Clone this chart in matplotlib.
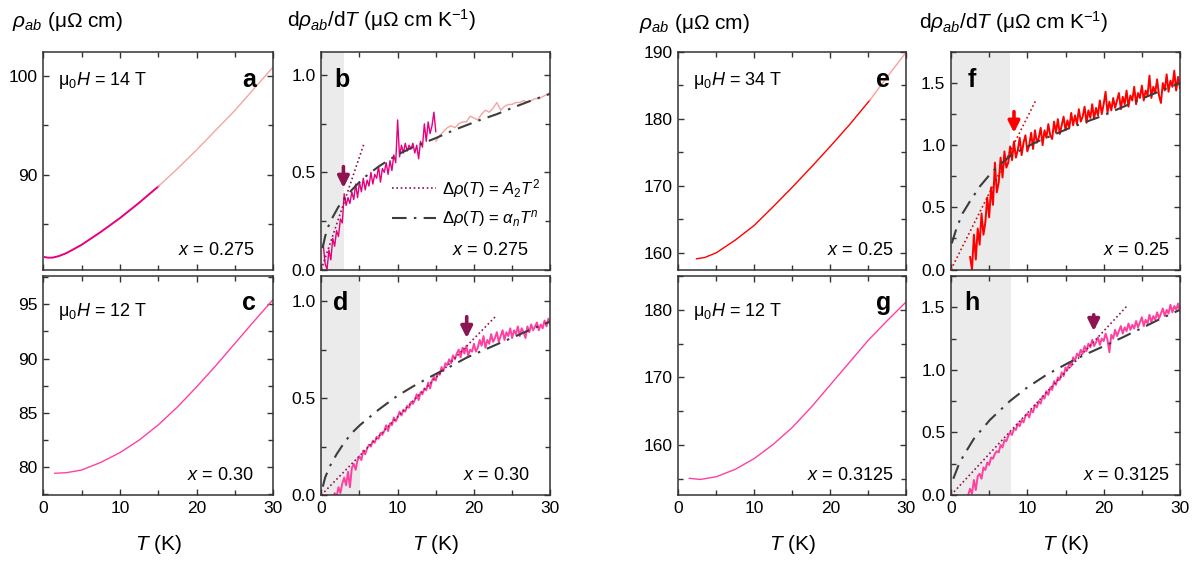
import matplotlib
matplotlib.use('Agg')
import matplotlib.pyplot as plt
import numpy as np
from matplotlib.ticker import MultipleLocator

plt.rcParams['font.family'] = ['Liberation Sans', 'DejaVu Sans']
plt.rcParams['mathtext.fontset'] = 'custom'
plt.rcParams['mathtext.rm'] = 'Liberation Sans'
plt.rcParams['mathtext.it'] = 'Liberation Sans:italic'
plt.rcParams['mathtext.bf'] = 'Liberation Sans:bold'

# ---------------- data ----------------
# a : x = 0.275, 14 T  (resistivity)
t_a = [0.2, 0.6, 1.2, 2, 3, 5, 7.5, 10, 12.5, 15]
rho_a = [81.65, 81.6, 81.6, 81.75, 82.05, 82.9, 84.2, 85.6, 87.15, 88.8]
t_a_hi = [15, 17.5, 20, 22.5, 25, 27.5, 30]
rho_a_hi = [88.8, 90.6, 92.5, 94.5, 96.5, 98.7, 100.9]

# b : derivative, x = 0.275 (measured every 0.25 K)
b_t_range = (0.25, 15.0)
drho_b = [0.13, 0.03, 0.00, 0.10, 0.05, 0.16, 0.12, 0.20, 0.17, 0.26, 0.24, 0.39,
          0.33, 0.37, 0.34, 0.40, 0.36, 0.44, 0.37, 0.45, 0.40, 0.47, 0.41, 0.46,
          0.43, 0.50, 0.44, 0.49, 0.47, 0.53, 0.45, 0.52, 0.50, 0.55, 0.49, 0.56,
          0.51, 0.59, 0.55, 0.77, 0.58, 0.64, 0.60, 0.65, 0.61, 0.64, 0.62, 0.65,
          0.60, 0.64, 0.57, 0.66, 0.63, 0.75, 0.66, 0.76, 0.70, 0.74, 0.81, 0.71]
b_hi_t_range = (15.0, 30.0)
drho_b_hi = [0.66, 0.69, 0.71, 0.73, 0.74, 0.73, 0.75, 0.76, 0.76, 0.79, 0.78,
             0.77, 0.80, 0.82, 0.81, 0.83, 0.86, 0.82, 0.84, 0.85, 0.85, 0.86,
             0.86, 0.87, 0.86, 0.87, 0.88, 0.88, 0.89, 0.90, 0.91]
fit_t_b = [0.17, 0.5, 0.9, 1.5, 2.2, 2.9, 4, 5.5, 7.5, 9.9, 12, 14.9, 17.5, 20.8, 23, 25.2, 27.5, 30]
fit_b = [0.11, 0.17, 0.22, 0.27, 0.32, 0.36, 0.41, 0.47, 0.53, 0.59, 0.63, 0.675,
         0.72, 0.77, 0.80, 0.835, 0.87, 0.905]
quad_t_b = [0, 5.64]
quad_b = [0, 0.654]

# c : x = 0.30, 12 T
t_c = [1.5, 3, 5, 7.5, 10, 12.5, 15, 17.5, 20, 22.5, 25, 27.5, 30]
rho_c = [79.45, 79.5, 79.75, 80.45, 81.35, 82.5, 83.9, 85.55, 87.4, 89.35, 91.4, 93.45, 95.45]

# d : derivative, x = 0.30
d_t_range = (1.5, 30.0)
drho_d = [-0.02, 0.01, -0.01, 0.04, 0.01, 0.06, 0.09, 0.05, 0.12, 0.04, 0.14, 0.16,
          0.13, 0.18, 0.20, 0.18, 0.23, 0.21, 0.24, 0.26, 0.25, 0.28, 0.27, 0.30,
          0.29, 0.32, 0.31, 0.33, 0.36, 0.33, 0.37, 0.36, 0.40, 0.38, 0.40, 0.43,
          0.41, 0.44, 0.43, 0.46, 0.45, 0.48, 0.47, 0.49, 0.52, 0.49, 0.53, 0.52,
          0.55, 0.54, 0.58, 0.55, 0.59, 0.61, 0.59, 0.63, 0.62, 0.66, 0.64, 0.68,
          0.67, 0.70, 0.68, 0.72, 0.70, 0.73, 0.75, 0.71, 0.76, 0.73, 0.77, 0.72,
          0.75, 0.74, 0.78, 0.74, 0.76, 0.80, 0.77, 0.82, 0.76, 0.80, 0.78, 0.83,
          0.79, 0.81, 0.84, 0.79, 0.82, 0.85, 0.80, 0.84, 0.82, 0.86, 0.81, 0.85,
          0.83, 0.87, 0.82, 0.86, 0.84, 0.81, 0.87, 0.84, 0.88, 0.85, 0.87, 0.89,
          0.85, 0.88, 0.86, 0.90, 0.87, 0.91, 0.88]
fit_t_d = [0.2, 0.5, 1.1, 2, 3, 4, 5.1, 7.5, 9.9, 12, 14.3, 17, 19.1, 22, 25.2, 27.5, 30]
fit_d = [0.043, 0.09, 0.147, 0.21, 0.27, 0.32, 0.362, 0.44, 0.51, 0.56, 0.61, 0.665,
         0.71, 0.76, 0.815, 0.855, 0.895]
quad_t_d = [0, 23.0]
quad_d = [0, 0.928]

# e : x = 0.25, 34 T
t_e = [2.4, 3.5, 5, 7.5, 10, 12.5, 15, 17.5, 20, 22.5, 25.2]
rho_e = [159.1, 159.3, 160.0, 161.9, 164.1, 166.9, 169.8, 172.8, 175.9, 179.1, 182.8]
t_e_hi = [25.2, 27.5, 30]
rho_e_hi = [182.8, 186.3, 190.0]

# f : derivative, x = 0.25
f_t_range = (2.5, 30.0)
drho_f = [0.10, 0.00, 0.28, 0.08, 0.33, 0.20, 0.45, 0.28, 0.38, 0.58, 0.42, 0.66,
          0.52, 0.86, 0.62, 0.70, 0.90, 0.74, 0.95, 0.82, 0.86, 0.99, 0.88, 1.03,
          0.90, 0.96, 1.06, 0.92, 1.02, 1.08, 0.95, 1.00, 1.10, 0.97, 1.12, 1.02,
          1.06, 1.14, 1.00, 1.12, 1.06, 1.17, 1.08, 1.05, 1.19, 1.10, 1.21, 1.09,
          1.16, 1.23, 1.12, 1.20, 1.14, 1.26, 1.16, 1.24, 1.17, 1.29, 1.19, 1.23,
          1.31, 1.18, 1.28, 1.22, 1.33, 1.21, 1.30, 1.24, 1.36, 1.25, 1.33, 1.43,
          1.26, 1.35, 1.28, 1.38, 1.30, 1.36, 1.42, 1.29, 1.39, 1.33, 1.44, 1.31,
          1.40, 1.36, 1.47, 1.33, 1.42, 1.38, 1.48, 1.36, 1.44, 1.40, 1.56, 1.38,
          1.47, 1.42, 1.53, 1.40, 1.34, 1.50, 1.44, 1.57, 1.43, 1.52, 1.47, 1.60,
          1.44, 1.55, 1.46]
fit_t_f = [0.1, 0.74, 1.5, 2.5, 3.8, 5.1, 6.4, 7.7, 9.5, 11.7, 13.5, 15.2, 18, 20, 22.6, 26, 30]
fit_f = [0.21, 0.335, 0.45, 0.55, 0.67, 0.765, 0.845, 0.91, 0.975, 1.04, 1.085, 1.13,
         1.195, 1.24, 1.31, 1.40, 1.50]
quad_t_f = [0, 11.1]
quad_f = [0, 1.36]

# g : x = 0.3125, 12 T
t_g = [1.45, 2.9, 5, 7.5, 10, 12.5, 15, 17.5, 20, 22.5, 25, 27.5, 30]
rho_g = [155.07, 154.9, 155.3, 156.4, 158.0, 160.1, 162.6, 165.6, 168.9, 172.2, 175.5, 178.4, 181.2]

# h : derivative, x = 0.3125
h_t_range = (2.25, 30.0)
drho_h = [0.00, 0.05, 0.01, 0.12, 0.04, 0.15, 0.17, 0.13, 0.22, 0.20, 0.26, 0.24,
          0.30, 0.29, 0.33, 0.35, 0.34, 0.40, 0.38, 0.44, 0.43, 0.47, 0.50, 0.48,
          0.53, 0.52, 0.57, 0.55, 0.60, 0.58, 0.63, 0.65, 0.62, 0.68, 0.66, 0.72,
          0.70, 0.75, 0.73, 0.79, 0.77, 0.83, 0.80, 0.86, 0.84, 0.91, 0.88, 0.94,
          0.92, 0.98, 0.95, 1.02, 1.00, 1.06, 1.03, 1.10, 1.07, 1.13, 1.11, 1.16,
          1.13, 1.19, 1.15, 1.21, 1.18, 1.24, 1.19, 1.22, 1.26, 1.20, 1.25, 1.23,
          1.29, 1.24, 1.14, 1.28, 1.25, 1.32, 1.27, 1.31, 1.35, 1.29, 1.34, 1.31,
          1.37, 1.32, 1.36, 1.33, 1.39, 1.34, 1.38, 1.42, 1.35, 1.40, 1.37, 1.44,
          1.38, 1.43, 1.40, 1.46, 1.41, 1.45, 1.49, 1.43, 1.48, 1.45, 1.52, 1.46,
          1.51, 1.48, 1.53, 1.47]
fit_t_h = [0.3, 1.0, 1.6, 3, 5.1, 7.7, 10, 12.5, 15.2, 17.5, 20.4, 22.5, 25.2, 27.5, 30]
fit_h = [0.13, 0.24, 0.31, 0.45, 0.60, 0.75, 0.86, 0.96, 1.05, 1.12, 1.20, 1.26,
         1.34, 1.41, 1.48]
quad_t_h = [0, 23.1]
quad_h = [0, 1.513]

# arrows (T, tail, tip) and shaded low-T windows
arrow_b = (2.9, 0.53, 0.42)
arrow_d = (19.05, 0.92, 0.81)
arrow_f = (8.25, 1.27, 1.10)
arrow_h = (18.7, 1.44, 1.31)
shade_b, shade_d, shade_f, shade_h = 3.0, 5.1, 7.7, 7.8

# ---------------- style ----------------
MAGENTA = '#E5007E'
LIGHT_PINK = '#F6A3A3'
HOT_PINK = '#FF40A0'
RED = '#FF0000'
LIGHT_RED = '#FF9C9C'
MAROON = '#8C1450'
FIT_GRAY = '#3C3C3C'
SHADE = '#EBEBEB'
SPINE = '#333333'
DASHDOT = (0, (7, 3.5, 1.2, 3.5))

W, H = 1193, 565
LEFTS = [43.3, 321.3, 678.3, 951]
WIDTHS = [230, 229, 228, 229]
ROWS = [(52, 269.5), (276, 495)]

TICK_FS = 12.5
LABEL_FS = 15
NOTE_FS = 13


def make_axes(fig, col, row):
    top, bottom = ROWS[row]
    rect = [LEFTS[col] / W, (H - bottom) / H, WIDTHS[col] / W, (bottom - top) / H]
    return fig.add_axes(rect)


def style_axes(ax, ylim, ymajor, yminor, bottom_row):
    ax.set_xlim(0, 30)
    ax.set_ylim(*ylim)
    ax.xaxis.set_major_locator(MultipleLocator(10))
    ax.xaxis.set_minor_locator(MultipleLocator(5))
    ax.yaxis.set_major_locator(MultipleLocator(ymajor))
    ax.yaxis.set_minor_locator(MultipleLocator(yminor))
    ax.tick_params(which='both', direction='in', top=True, right=True,
                   color=SPINE, width=1.0, labelsize=TICK_FS, pad=4)
    ax.tick_params(which='major', length=4.5)
    ax.tick_params(which='minor', length=3.5)
    for s in ax.spines.values():
        s.set_color(SPINE)
        s.set_linewidth(1.1)
    if bottom_row:
        ax.text(0.5, -0.251, r'$T$ (K)', transform=ax.transAxes, ha='center',
                va='baseline', fontsize=LABEL_FS)
    else:
        ax.tick_params(labelbottom=False)


def annotate(ax, letter, letter_x, left_letter, field, comp, comp_x, row):
    y_letter = 0.837 if row == 0 else 0.845
    ax.text(letter_x, y_letter, letter, transform=ax.transAxes, fontsize=18,
            fontweight='bold', ha='left' if left_letter else 'right', va='baseline', zorder=6)
    if field is not None:
        y_field = 0.871 if row == 0 else 0.840
        ax.text(0.064, y_field, r'$\mathrm{μ_0}H$ = %s T' % field, transform=ax.transAxes,
                fontsize=NOTE_FS, ha='left', va='center')
    ax.text(comp_x, 0.067, r'$x$ = %s' % comp, transform=ax.transAxes, fontsize=NOTE_FS,
            ha='right', va='baseline', zorder=6)


def draw_derivative(ax, t_range, values, color, fit_t, fit, quad_t, quad, quad_color,
                    arrow, arrow_color, shade, lw=1.0):
    ax.axvspan(0, shade, color=SHADE, lw=0, zorder=0)
    t = np.linspace(t_range[0], t_range[1], len(values))
    ax.plot(t, values, color=color, lw=lw, zorder=2)
    fit_line, = ax.plot(fit_t, fit, color=FIT_GRAY, lw=1.5, ls=DASHDOT, zorder=3)
    quad_line, = ax.plot(quad_t, quad, color=quad_color, lw=1.2, ls=(0, (1, 1.6)), zorder=3)
    ax.annotate('', xy=(arrow[0], arrow[2]), xytext=(arrow[0], arrow[1]),
                arrowprops=dict(arrowstyle='-|>', color=arrow_color, lw=2.6,
                                mutation_scale=17, shrinkA=0, shrinkB=0), zorder=5)
    return quad_line, fit_line


fig = plt.figure(figsize=(W / 100, H / 100), dpi=100)

# a
ax = make_axes(fig, 0, 0)
ax.plot(t_a, rho_a, color=MAGENTA, lw=1.4)
ax.plot(t_a_hi, rho_a_hi, color=LIGHT_PINK, lw=1.0)
style_axes(ax, (80.4, 102.4), 10, 5, False)
annotate(ax, 'a', 0.924, False, '14', '0.275', 0.917, 0)

# b
ax = make_axes(fig, 1, 0)
t_hi = np.linspace(b_hi_t_range[0], b_hi_t_range[1], len(drho_b_hi))
ax.plot(t_hi, drho_b_hi, color=LIGHT_PINK, lw=1.0, zorder=2)
quad_line, fit_line = draw_derivative(ax, b_t_range, drho_b, MAGENTA, fit_t_b, fit_b,
                                      quad_t_b, quad_b, MAROON, arrow_b, MAROON, shade_b)
style_axes(ax, (0, 1.12), 0.5, 0.25, False)
annotate(ax, 'b', 0.057, True, None, '0.275', 0.904, 0)
ax.legend([quad_line, fit_line],
          [r'$\Delta\rho(T)$ = $A_\mathrm{2}T^\mathrm{2}$', r'$\Delta\rho(T)$ = $\alpha_nT^n$'],
          loc='lower left', bbox_to_anchor=(0.31, 0.185), frameon=False, fontsize=12,
          handlelength=2.65, handletextpad=0.35, labelspacing=0.5, borderpad=0, borderaxespad=0)

# c
ax = make_axes(fig, 0, 1)
ax.plot(t_c, rho_c, color=HOT_PINK, lw=1.0)
style_axes(ax, (77.45, 97.6), 5, 2.5, True)
annotate(ax, 'c', 0.924, False, '12', '0.30', 0.914, 1)

# d
ax = make_axes(fig, 1, 1)
draw_derivative(ax, d_t_range, drho_d, HOT_PINK, fit_t_d, fit_d, quad_t_d, quad_d,
                MAROON, arrow_d, MAROON, shade_d, lw=1.4)
style_axes(ax, (0, 1.13), 0.5, 0.25, True)
annotate(ax, 'd', 0.052, True, None, '0.30', 0.908, 1)

# e
ax = make_axes(fig, 2, 0)
ax.plot(t_e, rho_e, color=RED, lw=1.0)
ax.plot(t_e_hi, rho_e_hi, color=LIGHT_RED, lw=1.0)
style_axes(ax, (157.5, 190), 10, 5, False)
annotate(ax, 'e', 0.928, False, '34', '0.25', 0.943, 0)

# f
ax = make_axes(fig, 3, 0)
draw_derivative(ax, f_t_range, drho_f, RED, fit_t_f, fit_f, quad_t_f, quad_f,
                '#C81010', arrow_f, RED, shade_f, lw=1.4)
style_axes(ax, (0, 1.75), 0.5, 0.25, False)
annotate(ax, 'f', 0.074, True, None, '0.25', 0.956, 0)

# g
ax = make_axes(fig, 2, 1)
ax.plot(t_g, rho_g, color=HOT_PINK, lw=1.0)
style_axes(ax, (152.6, 185), 10, 5, True)
annotate(ax, 'g', 0.936, False, '12', '0.3125', 0.946, 1)

# h
ax = make_axes(fig, 3, 1)
draw_derivative(ax, h_t_range, drho_h, HOT_PINK, fit_t_h, fit_h, quad_t_h, quad_h,
                MAROON, arrow_h, MAROON, shade_h, lw=1.4)
style_axes(ax, (0, 1.75), 0.5, 0.25, True)
annotate(ax, 'h', 0.057, True, None, '0.3125', 0.956, 1)

# axis titles above the top row
rho_label = r'$\rho_{ab}$ (μΩ cm)'
drho_label = r'd$\rho_{ab}$/d$T$ (μΩ cm K$^{\mathrm{-1}}$)'
fig.text(12 / W, 1 - 27 / H, rho_label, fontsize=LABEL_FS, ha='left', va='baseline')
fig.text(287 / W, 1 - 27 / H, drho_label, fontsize=LABEL_FS, ha='left', va='baseline')
fig.text(639 / W, 1 - 29 / H, rho_label, fontsize=LABEL_FS, ha='left', va='baseline')
fig.text(919 / W, 1 - 29 / H, drho_label, fontsize=LABEL_FS, ha='left', va='baseline')

fig.savefig('out.png', dpi=100)
